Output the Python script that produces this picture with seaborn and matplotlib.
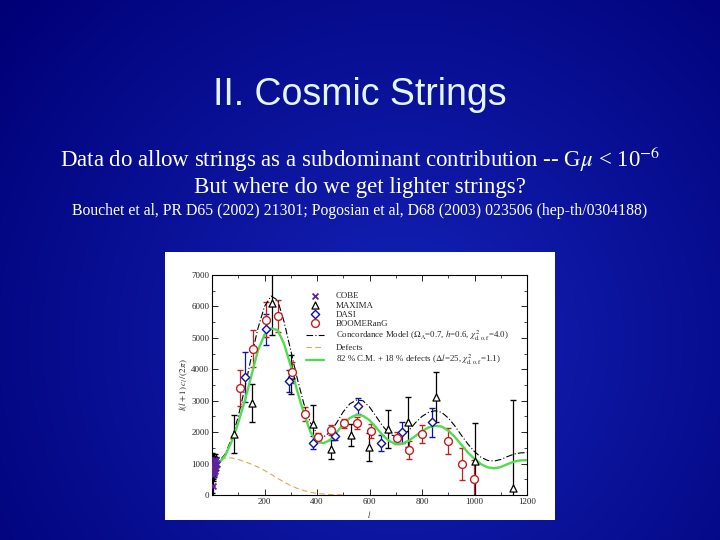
import numpy as np
import matplotlib
matplotlib.use("Agg")
import matplotlib.pyplot as plt
import seaborn as sns
import pandas as pd

# ---- data ----
cobe_l = [2, 3, 4, 5, 6, 7, 8, 9, 10, 11, 12, 14, 16, 19]
cobe_v = [300, 650, 750, 1000, 800, 700, 900, 1100, 1050, 850, 750, 950, 1100, 1000]
cobe_err = [900, 600, 450, 350, 300, 260, 240, 220, 200, 200, 190, 190, 200, 220]

maxima_l = [82, 153, 229, 300, 386, 453, 529, 599, 672, 747, 854, 1001, 1146]
maxima_v = [1940, 2930, 6100, 3830, 2270, 1460, 1920, 1520, 2100, 2320, 3110, 1090, 210]
maxima_err = [600, 600, 1000, 620, 600, 300, 350, 450, 600, 800, 800, 1200, 2800]

dasi_l = [127, 206, 295, 384, 468, 558, 642, 725, 839]
dasi_v = [3760, 5270, 3640, 1670, 1890, 2840, 1650, 1990, 2310]
dasi_err = [800, 500, 350, 220, 150, 250, 250, 330, 450]

boom_l = [105, 156, 204, 253, 304, 354, 405, 453, 504, 551, 605, 703, 751, 799, 900, 951, 999]
boom_v = [3400, 4660, 5580, 5700, 3900, 2580, 1830, 2070, 2280, 2290, 2040, 1810, 1440, 1940, 1720, 980, 520]
boom_err = [580, 580, 550, 500, 330, 230, 150, 150, 150, 200, 220, 200, 280, 280, 400, 500, 600]

model_l = [2, 20, 50, 80, 100, 125, 150, 175, 200, 225, 250, 275, 300, 325, 350, 375,
           400, 425, 450, 475, 500, 525, 550, 575, 600, 625, 650, 675, 700, 725, 750,
           775, 800, 825, 850, 875, 900, 925, 950, 975, 1000, 1025, 1050, 1075, 1100,
           1125, 1150, 1175, 1200]
concordance_v = [900, 1000, 1300, 1900, 2500, 3400, 4400, 5300, 6000, 6330, 6200, 5500,
                 4600, 3700, 2900, 2300, 1950, 1850, 2000, 2300, 2650, 2900, 3020, 3000,
                 2800, 2500, 2200, 1950, 1850, 1900, 2050, 2300, 2500, 2630, 2680, 2630,
                 2450, 2200, 1900, 1620, 1380, 1200, 1100, 1080, 1130, 1220, 1300, 1340, 1350]
mixed_v = [850, 950, 1250, 1800, 2300, 3000, 3800, 4600, 5100, 5300, 5250, 4800, 4100,
           3300, 2600, 2000, 1700, 1650, 1750, 2000, 2250, 2450, 2550, 2520, 2380, 2150,
           1900, 1720, 1620, 1630, 1730, 1880, 2030, 2150, 2200, 2180, 2050, 1850, 1600,
           1350, 1150, 980, 880, 850, 890, 980, 1060, 1100, 1110]

defects_l = [2, 25, 50, 75, 100, 125, 150, 175, 200, 225, 250, 275, 300, 325, 350, 375, 400, 450, 500]
defects_v = [1000, 1100, 1170, 1180, 1130, 1060, 980, 890, 780, 660, 530, 410, 300, 210, 140, 90, 50, 15, 0]

sns.set_theme(style="ticks")
plt.rcParams["font.family"] = ["Liberation Serif", "DejaVu Serif"]
plt.rcParams["mathtext.fontset"] = "stix"

fig = plt.figure(figsize=(7.2, 5.4), dpi=100)

# slide background: blue radial gradient
bg = fig.add_axes([0, 0, 1, 1], zorder=-10)
yy, xx = np.mgrid[0:540, 0:720]
r = np.clip(np.hypot(xx - 400, yy - 340) / 520, 0, 1)[..., None]
center = np.array([20, 35, 185]) / 255
edge = np.array([0, 0, 118]) / 255
bg.imshow(center * (1 - r) + edge * r, extent=[0, 1, 0, 1], aspect="auto")
bg.axis("off")

# white picture frame
panel = fig.add_axes([165 / 720, 20 / 540, 390 / 720, 268 / 540], zorder=-5)
panel.set_facecolor("white")
panel.set_xticks([])
panel.set_yticks([])
for s in panel.spines.values():
    s.set_visible(False)

ax = fig.add_axes([212 / 720, 45 / 540, 315 / 720, 220 / 540])
ax.set_facecolor("white")

# error bars
ax.errorbar(cobe_l, cobe_v, yerr=cobe_err, fmt="none", ecolor="black", elinewidth=0.8, capsize=1.5)
ax.errorbar(maxima_l, maxima_v, yerr=maxima_err, fmt="none", ecolor="black", elinewidth=0.9, capsize=2)
ax.errorbar(dasi_l, dasi_v, yerr=dasi_err, fmt="none", ecolor="#1010b0", elinewidth=0.9, capsize=2)
ax.errorbar(boom_l, boom_v, yerr=boom_err, fmt="none", ecolor="#c02020", elinewidth=0.9, capsize=2)

sns.scatterplot(x=cobe_l, y=cobe_v, marker="x", s=18, color="#6020a0", linewidth=1.3,
                label="COBE", ax=ax, zorder=4)
sns.scatterplot(x=maxima_l, y=maxima_v, marker="^", s=26, facecolor="white", edgecolor="black",
                linewidth=0.9, label="MAXIMA", ax=ax, zorder=4)
sns.scatterplot(x=dasi_l, y=dasi_v, marker="D", s=18, facecolor="white", edgecolor="#1010b0",
                linewidth=1.0, label="DASI", ax=ax, zorder=4)
sns.scatterplot(x=boom_l, y=boom_v, marker="o", s=32, facecolor="white", edgecolor="#c02020",
                linewidth=1.0, label="BOOMERanG", ax=ax, zorder=4)

curves = pd.DataFrame({"l": model_l, "concordance": concordance_v, "mixed": mixed_v})
sns.lineplot(data=curves, x="l", y="concordance", color="black", linewidth=0.8,
             linestyle=(0, (6, 2, 1, 2)),
             label=r"Concordance Model ($\Omega_\Lambda$=0.7, $h$=0.6, $\chi^2_{\rm d.o.f}$=4.0)",
             ax=ax, zorder=2)
sns.lineplot(x=defects_l, y=defects_v, color="#e0a850", linewidth=0.8, linestyle=(0, (5, 3)),
             label="Defects", ax=ax, zorder=2)
sns.lineplot(data=curves, x="l", y="mixed", color="#50dc50", linewidth=1.7,
             label=r"82 % C.M. + 18 % defects ($\Delta l$=25, $\chi^2_{\rm d.o.f}$=1.1)",
             ax=ax, zorder=3)

ax.set_xlim(0, 1200)
ax.set_ylim(0, 7000)
ax.set_xticks([200, 400, 600, 800, 1000, 1200])
ax.set_xticks(np.arange(0, 1201, 100), minor=True)
ax.set_yticks(np.arange(0, 7001, 1000))
ax.set_yticks(np.arange(0, 7001, 500), minor=True)
ax.tick_params(which="both", direction="in", top=True, right=True, labelsize=6.5, pad=2)
ax.tick_params(which="major", length=4, width=0.7)
ax.tick_params(which="minor", length=2, width=0.6)
for s in ax.spines.values():
    s.set_linewidth(0.8)
    s.set_color("black")
ax.set_xlabel(r"$l$", fontsize=6, labelpad=2)
ax.set_ylabel(r"$l(l+1)\,c_l\,/(2\,\pi)$", fontsize=6.5, labelpad=1)

ax.legend(loc="upper left", bbox_to_anchor=(0.28, 0.95), frameon=False, fontsize=6.4,
          handlelength=2.0, labelspacing=0.1, borderpad=0.2, handletextpad=1.3)

# slide texts
fig.text(0.5, 1 - 95 / 540, "II. Cosmic Strings", ha="center", va="center", color="#e6f6ff",
         fontsize=27, family=["Liberation Sans", "DejaVu Sans"])
fig.text(0.5, 1 - 159 / 540, r"Data do allow strings as a subdominant contribution -- G$\mu$ < 10$^{-6}$",
         ha="center", va="center", color="white", fontsize=16.5)
fig.text(0.5, 1 - 187 / 540, "But where do we get lighter strings?",
         ha="center", va="center", color="white", fontsize=16.5)
fig.text(0.5, 1 - 211 / 540,
         "Bouchet et al, PR D65 (2002) 21301; Pogosian et al, D68 (2003) 023506 (hep-th/0304188)",
         ha="center", va="center", color="white", fontsize=11.3)

fig.savefig("out.png", dpi=100)
